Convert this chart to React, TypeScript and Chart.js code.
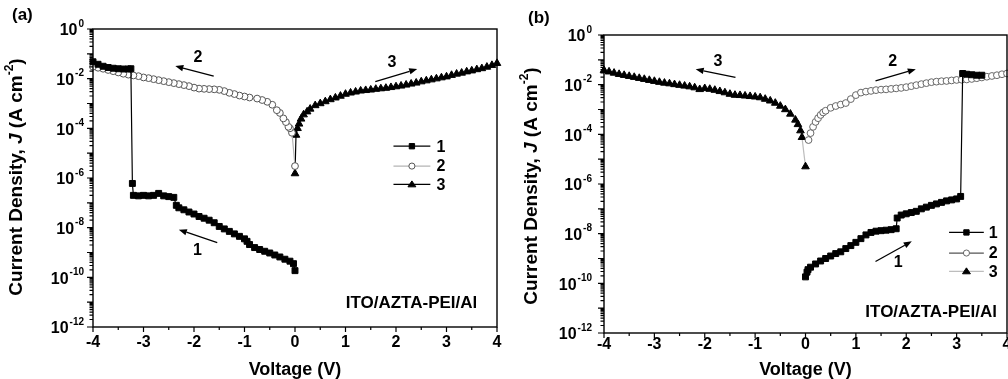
import React, { useEffect, useRef } from 'react';
import { Chart, registerables } from 'chart.js';

Chart.register(...registerables);

// ---------------- Data: panel (a) ----------------
// Sweep 1: 0 V -> -4 V (OFF state, switches ON near -3.2 V)
const A1_V = [0, -0.03, -0.1, -0.2, -0.3, -0.4, -0.5, -0.6, -0.7, -0.8, -0.9, -0.95, -1.0, -1.1, -1.2, -1.3, -1.4, -1.5, -1.6, -1.7, -1.8, -1.9, -2.0, -2.1, -2.2, -2.3, -2.35, -2.4, -2.5, -2.6, -2.7, -2.8, -2.9, -3.0, -3.1, -3.2, -3.22, -3.25, -3.3, -3.4, -3.5, -3.6, -3.7, -3.8, -3.9, -4.0];
const A1_J = [1.86e-10, 3.55e-10, 4.47e-10, 5.37e-10, 6.61e-10, 7.94e-10, 9.55e-10, 1.12e-9, 1.32e-9, 1.58e-9, 2.09e-9, 2.82e-9, 3.55e-9, 4.47e-9, 5.62e-9, 7.08e-9, 8.91e-9, 1.12e-8, 1.58e-8, 2.0e-8, 2.4e-8, 2.82e-8, 3.55e-8, 4.27e-8, 5.25e-8, 6.31e-8, 7.94e-8, 1.66e-7, 1.78e-7, 1.91e-7, 2.4e-7, 2.0e-7, 1.91e-7, 2.0e-7, 1.91e-7, 2.0e-7, 6.03e-7, 2.51e-2, 2.45e-2, 2.45e-2, 2.51e-2, 2.63e-2, 2.82e-2, 3.16e-2, 3.8e-2, 4.79e-2];
// Sweep 2: 0 V -> -4 V (ON state)
const A2_V = [0, -0.06, -0.1, -0.13, -0.18, -0.23, -0.3, -0.36, -0.45, -0.55, -0.65, -0.75, -0.9, -1.0, -1.1, -1.2, -1.3, -1.4, -1.5, -1.6, -1.7, -1.8, -1.9, -2.0, -2.1, -2.2, -2.3, -2.4, -2.5, -2.6, -2.7, -2.8, -2.9, -3.0, -3.1, -3.2, -3.3, -3.4, -3.5, -3.6, -3.7, -3.8, -3.9, -4.0];
const A2_J = [3.02e-6, 6.61e-5, 1.0e-4, 1.15e-4, 1.78e-4, 2.51e-4, 4.17e-4, 5.37e-4, 8.91e-4, 1.17e-3, 1.38e-3, 1.58e-3, 1.74e-3, 1.91e-3, 2.09e-3, 2.4e-3, 2.69e-3, 3.16e-3, 3.55e-3, 3.72e-3, 3.8e-3, 3.89e-3, 3.98e-3, 4.37e-3, 5.01e-3, 5.5e-3, 6.03e-3, 6.61e-3, 7.24e-3, 7.94e-3, 8.71e-3, 9.55e-3, 1.05e-2, 1.12e-2, 1.26e-2, 1.35e-2, 1.45e-2, 1.58e-2, 1.78e-2, 2.0e-2, 2.24e-2, 2.51e-2, 2.75e-2, 3.02e-2];
// Sweep 3: 0 V -> +4 V
const A3_V = [0, 0.02, 0.05, 0.08, 0.12, 0.17, 0.24, 0.3, 0.4, 0.5, 0.6, 0.7, 0.8, 0.9, 1.0, 1.1, 1.2, 1.3, 1.4, 1.5, 1.6, 1.7, 1.8, 1.9, 2.0, 2.1, 2.2, 2.3, 2.4, 2.5, 2.6, 2.7, 2.8, 2.9, 3.0, 3.1, 3.2, 3.3, 3.4, 3.5, 3.6, 3.7, 3.8, 3.9, 4.0];
const A3_J = [1.51e-6, 5.37e-5, 1.0e-4, 1.51e-4, 2.4e-4, 3.55e-4, 4.68e-4, 6.03e-4, 8.32e-4, 1.0e-3, 1.2e-3, 1.45e-3, 1.7e-3, 2.0e-3, 2.4e-3, 2.69e-3, 2.95e-3, 3.24e-3, 3.39e-3, 3.55e-3, 3.8e-3, 3.98e-3, 4.17e-3, 4.47e-3, 4.79e-3, 5.13e-3, 5.62e-3, 6.17e-3, 6.76e-3, 7.59e-3, 8.32e-3, 9.12e-3, 1.0e-2, 1.1e-2, 1.2e-2, 1.38e-2, 1.55e-2, 1.7e-2, 1.91e-2, 2.09e-2, 2.34e-2, 2.57e-2, 2.95e-2, 3.47e-2, 4.17e-2];

// ---------------- Data: panel (b) ----------------
const B1_V = [0, 0.03, 0.05, 0.1, 0.2, 0.3, 0.4, 0.5, 0.6, 0.7, 0.8, 0.9, 1.0, 1.1, 1.2, 1.3, 1.4, 1.5, 1.6, 1.7, 1.8, 1.82, 1.9, 2.0, 2.1, 2.2, 2.3, 2.4, 2.5, 2.6, 2.7, 2.8, 2.9, 3.0, 3.08, 3.12, 3.2, 3.3, 3.4, 3.5];
const B1_J = [1.82e-10, 2.82e-10, 3.55e-10, 4.47e-10, 6.03e-10, 7.94e-10, 1.0e-9, 1.26e-9, 1.58e-9, 1.86e-9, 2.51e-9, 3.31e-9, 4.47e-9, 6.31e-9, 8.91e-9, 1.12e-8, 1.26e-8, 1.32e-8, 1.38e-8, 1.45e-8, 1.58e-8, 4.27e-8, 5.62e-8, 6.31e-8, 7.08e-8, 7.94e-8, 1.0e-7, 1.17e-7, 1.38e-7, 1.58e-7, 1.82e-7, 2.09e-7, 2.29e-7, 2.51e-7, 3.16e-7, 2.82e-2, 2.63e-2, 2.51e-2, 2.4e-2, 2.4e-2];
const B2_V = [0.06, 0.1, 0.15, 0.2, 0.25, 0.3, 0.35, 0.4, 0.5, 0.6, 0.7, 0.8, 0.9, 1.0, 1.1, 1.2, 1.3, 1.4, 1.5, 1.6, 1.7, 1.8, 1.9, 2.0, 2.1, 2.2, 2.3, 2.4, 2.5, 2.6, 2.7, 2.8, 2.9, 3.0, 3.1, 3.2, 3.3, 3.4, 3.5, 3.6, 3.7, 3.8, 3.9, 4.0];
const B2_J = [5.89e-5, 1.12e-4, 2.0e-4, 3.16e-4, 4.47e-4, 6.03e-4, 7.59e-4, 8.91e-4, 1.17e-3, 1.38e-3, 1.58e-3, 1.82e-3, 2.63e-3, 3.8e-3, 4.79e-3, 5.25e-3, 5.62e-3, 6.03e-3, 6.31e-3, 6.46e-3, 6.76e-3, 7.08e-3, 7.41e-3, 7.94e-3, 8.71e-3, 9.55e-3, 1.05e-2, 1.15e-2, 1.26e-2, 1.32e-2, 1.38e-2, 1.41e-2, 1.48e-2, 1.55e-2, 1.58e-2, 1.62e-2, 1.7e-2, 1.82e-2, 1.95e-2, 2.09e-2, 2.24e-2, 2.4e-2, 2.63e-2, 2.82e-2];
const B3_V = [0, -0.07, -0.1, -0.15, -0.2, -0.3, -0.4, -0.5, -0.6, -0.7, -0.8, -0.9, -1.0, -1.1, -1.2, -1.3, -1.4, -1.5, -1.6, -1.7, -1.8, -1.9, -2.0, -2.1, -2.2, -2.3, -2.4, -2.5, -2.6, -2.7, -2.8, -2.9, -3.0, -3.1, -3.2, -3.3, -3.4, -3.5, -3.6, -3.7, -3.8, -3.9, -4.0];
const B3_J = [5.01e-6, 7.59e-5, 1.41e-4, 2.51e-4, 3.8e-4, 6.61e-4, 1.0e-3, 1.38e-3, 1.82e-3, 2.24e-3, 2.63e-3, 3.02e-3, 3.24e-3, 3.39e-3, 3.55e-3, 3.72e-3, 3.8e-3, 4.17e-3, 4.79e-3, 5.37e-3, 6.03e-3, 6.61e-3, 7.08e-3, 6.46e-3, 7.59e-3, 8.32e-3, 8.91e-3, 9.55e-3, 1.02e-2, 1.1e-2, 1.17e-2, 1.26e-2, 1.38e-2, 1.51e-2, 1.66e-2, 1.82e-2, 2.0e-2, 2.19e-2, 2.4e-2, 2.63e-2, 2.95e-2, 3.31e-2, 3.8e-2];

// ---------------- Axis / text ----------------
const X_MIN = -4;
const X_MAX = 4;
const Y_MIN = 1e-12;
const Y_MAX = 1;
const X_TICK_VALUES = [-4, -3, -2, -1, 0, 1, 2, 3, 4];
const Y_TICK_EXPONENTS = [0, -2, -4, -6, -8, -10, -12];
const SERIES_LABELS = ['1', '2', '3'];
const DEVICE_LABEL = 'ITO/AZTA-PEI/Al';
const X_TITLE = 'Voltage (V)';
const PANEL_LABELS = ['(a)', '(b)'];

const FONT = '"Liberation Sans", Arial, Helvetica, sans-serif';
const H = 379;

type Arrow = { from: [number, number]; to: [number, number]; label: string; labelAt: [number, number] };

interface PanelSpec {
  left: number;
  width: number;
  padding: { left: number; top: number; right: number; bottom: number };
  panelLabel: string;
  panelLabelPos: [number, number];
  yTitleCenter: [number, number];
  xTitleY: number;
  xTickLabelOffset: number;
  yTickLabelGap: number;
  series: { v: number[]; j: number[]; line: string; style: string; radius: number; fill: string; stroke: string }[];
  arrows: Arrow[]; // positions in (voltage, log10 J)
  device: [number, number]; // right edge voltage, log10 J
  legend: { rowsLog: number[]; lineFrom: number; lineTo: number; labelAt: number };
}

const PANELS: PanelSpec[] = [
  {
    left: 0,
    width: 520,
    padding: { left: 93, top: 29, right: 23, bottom: 52 },
    panelLabel: PANEL_LABELS[0],
    panelLabelPos: [12, 15],
    yTitleCenter: [17, 177],
    xTitleY: 370,
    xTickLabelOffset: 16,
    yTickLabelGap: 9,
    series: [
      { v: A1_V, j: A1_J, line: '#000', style: 'rect', radius: 4.2, fill: '#000', stroke: '#000' },
      { v: A2_V, j: A2_J, line: '#b4b4b4', style: 'circle', radius: 3.4, fill: '#fff', stroke: '#555' },
      { v: A3_V, j: A3_J, line: '#000', style: 'triangle', radius: 4.4, fill: '#000', stroke: '#000' },
    ],
    arrows: [
      { from: [-1.61, -1.9], to: [-2.37, -1.49], label: '2', labelAt: [-1.92, -1.17] },
      { from: [1.59, -2.12], to: [2.42, -1.61], label: '3', labelAt: [1.92, -1.37] },
      { from: [-1.54, -8.6], to: [-2.3, -8.08], label: '1', labelAt: [-1.93, -8.94] },
    ],
    device: [3.61, -11.04],
    legend: { rowsLog: [-4.72, -5.52, -6.26], lineFrom: 1.95, lineTo: 2.68, labelAt: 2.8 },
  },
  {
    left: 500,
    width: 530,
    padding: { left: 104, top: 35, right: 23, bottom: 46 },
    panelLabel: PANEL_LABELS[1],
    panelLabelPos: [28, 18],
    yTitleCenter: [32, 186],
    xTitleY: 370,
    xTickLabelOffset: 12,
    yTickLabelGap: 12,
    series: [
      { v: B1_V, j: B1_J, line: '#000', style: 'rect', radius: 4.2, fill: '#000', stroke: '#000' },
      { v: B2_V, j: B2_J, line: '#555', style: 'circle', radius: 3.4, fill: '#fff', stroke: '#666' },
      { v: B3_V, j: B3_J, line: '#bdbdbd', style: 'triangle', radius: 4.4, fill: '#000', stroke: '#000' },
    ],
    arrows: [
      { from: [-1.39, -1.71], to: [-2.18, -1.38], label: '3', labelAt: [-1.74, -1.08] },
      { from: [1.39, -1.85], to: [2.19, -1.38], label: '2', labelAt: [1.73, -1.08] },
      { from: [1.39, -9.12], to: [2.11, -8.31], label: '1', labelAt: [1.84, -9.16] },
    ],
    device: [3.8, -11.16],
    legend: { rowsLog: [-7.95, -8.78, -9.52], lineFrom: 2.85, lineTo: 3.54, labelAt: 3.64 },
  },
];

function drawMarker(ctx: CanvasRenderingContext2D, style: string, x: number, y: number, r: number, fill: string, stroke: string) {
  ctx.save();
  ctx.fillStyle = fill;
  ctx.strokeStyle = stroke;
  ctx.lineWidth = 1;
  ctx.beginPath();
  if (style === 'rect') {
    const s = r * Math.SQRT1_2;
    ctx.rect(x - s, y - s, 2 * s, 2 * s);
  } else if (style === 'circle') {
    ctx.arc(x, y, r, 0, Math.PI * 2);
  } else {
    const h = r * 1.5;
    ctx.moveTo(x, y - h * 0.6);
    ctx.lineTo(x + r, y + h * 0.4);
    ctx.lineTo(x - r, y + h * 0.4);
    ctx.closePath();
  }
  ctx.fill();
  ctx.stroke();
  ctx.restore();
}

function makeDecor(spec: PanelSpec) {
  return {
    id: 'decor',
    afterDraw(chart: any) {
      const ctx: CanvasRenderingContext2D = chart.ctx;
      const ca = chart.chartArea;
      const xs = chart.scales.x;
      const ys = chart.scales.y;
      const X = (v: number) => xs.getPixelForValue(v);
      const Y = (lg: number) => ys.getPixelForValue(Math.pow(10, lg));
      ctx.save();
      ctx.strokeStyle = '#000';
      ctx.fillStyle = '#000';
      // frame
      ctx.lineWidth = 1.4;
      ctx.strokeRect(ca.left, ca.top, ca.right - ca.left, ca.bottom - ca.top);
      // y ticks
      ctx.lineWidth = 1.2;
      ctx.beginPath();
      for (let e = -12; e <= 0; e++) {
        const py = ys.getPixelForValue(Math.pow(10, e));
        ctx.moveTo(ca.left - 6, py);
        ctx.lineTo(ca.left, py);
        if (e < 0) {
          for (let m = 2; m <= 9; m++) {
            const pm = ys.getPixelForValue(m * Math.pow(10, e));
            ctx.moveTo(ca.left - 3.5, pm);
            ctx.lineTo(ca.left, pm);
          }
        }
      }
      // x ticks
      for (let i = 0; i < X_TICK_VALUES.length; i++) {
        const px = X(X_TICK_VALUES[i]);
        ctx.moveTo(px, ca.bottom);
        ctx.lineTo(px, ca.bottom + 5);
        if (i < X_TICK_VALUES.length - 1) {
          const ph = X((X_TICK_VALUES[i] + X_TICK_VALUES[i + 1]) / 2);
          ctx.moveTo(ph, ca.bottom);
          ctx.lineTo(ph, ca.bottom + 3);
        }
      }
      ctx.stroke();

      const tickFont = `bold 16px ${FONT}`;
      const supFont = `bold 10px ${FONT}`;
      // x tick labels
      ctx.font = tickFont;
      ctx.textAlign = 'center';
      ctx.textBaseline = 'middle';
      for (const v of X_TICK_VALUES) {
        ctx.fillText(String(v), X(v), ca.bottom + spec.xTickLabelOffset);
      }
      // y tick labels 10^e
      for (const e of Y_TICK_EXPONENTS) {
        const py = ys.getPixelForValue(Math.pow(10, e));
        const es = String(e);
        ctx.font = supFont;
        const ew = ctx.measureText(es).width;
        ctx.font = tickFont;
        const bw = ctx.measureText('10').width;
        const right = ca.left - spec.yTickLabelGap;
        const lx = right - ew - bw - 1;
        ctx.textAlign = 'left';
        ctx.textBaseline = 'middle';
        ctx.fillText('10', lx, py + 2);
        ctx.font = supFont;
        ctx.fillText(es, lx + bw + 1, py - 5);
      }

      // x title
      ctx.font = `bold 18px ${FONT}`;
      ctx.textAlign = 'center';
      ctx.textBaseline = 'middle';
      ctx.fillText(X_TITLE, (ca.left + ca.right) / 2, spec.xTitleY);

      // panel label
      ctx.font = `bold 17px ${FONT}`;
      ctx.textAlign = 'left';
      ctx.fillText(spec.panelLabel, spec.panelLabelPos[0], spec.panelLabelPos[1]);

      // y title (rotated, mixed fonts)
      const segs: { t: string; f: string; dy: number }[] = [
        { t: 'Current Density, ', f: `bold 19px ${FONT}`, dy: 0 },
        { t: 'J', f: `italic bold 19px ${FONT}`, dy: 0 },
        { t: ' (A cm', f: `bold 19px ${FONT}`, dy: 0 },
        { t: '-2', f: `bold 12px ${FONT}`, dy: -7 },
        { t: ')', f: `bold 19px ${FONT}`, dy: 0 },
      ];
      let total = 0;
      const widths = segs.map((s) => {
        ctx.font = s.f;
        const w = ctx.measureText(s.t).width;
        total += w;
        return w;
      });
      ctx.save();
      ctx.translate(spec.yTitleCenter[0], spec.yTitleCenter[1]);
      ctx.rotate(-Math.PI / 2);
      ctx.textAlign = 'left';
      ctx.textBaseline = 'middle';
      let cx = -total / 2;
      segs.forEach((s, i) => {
        ctx.font = s.f;
        ctx.fillText(s.t, cx, s.dy);
        cx += widths[i];
      });
      ctx.restore();

      // arrows with labels
      ctx.lineWidth = 1.3;
      for (const a of spec.arrows) {
        const x1 = X(a.from[0]);
        const y1 = Y(a.from[1]);
        const x2 = X(a.to[0]);
        const y2 = Y(a.to[1]);
        const ang = Math.atan2(y2 - y1, x2 - x1);
        const hl = 8;
        const hw = 3.2;
        const bx = x2 - hl * Math.cos(ang);
        const by = y2 - hl * Math.sin(ang);
        ctx.beginPath();
        ctx.moveTo(x1, y1);
        ctx.lineTo(bx, by);
        ctx.stroke();
        ctx.beginPath();
        ctx.moveTo(x2, y2);
        ctx.lineTo(bx + hw * Math.sin(ang), by - hw * Math.cos(ang));
        ctx.lineTo(bx - hw * Math.sin(ang), by + hw * Math.cos(ang));
        ctx.closePath();
        ctx.fill();
        ctx.font = `bold 16px ${FONT}`;
        ctx.textAlign = 'center';
        ctx.textBaseline = 'middle';
        ctx.fillText(a.label, X(a.labelAt[0]), Y(a.labelAt[1]));
      }

      // device label
      ctx.font = `bold 17px ${FONT}`;
      ctx.textAlign = 'right';
      ctx.textBaseline = 'middle';
      ctx.fillText(DEVICE_LABEL, X(spec.device[0]), Y(spec.device[1]));

      // legend
      const lg = spec.legend;
      spec.series.forEach((s, i) => {
        const y = Y(lg.rowsLog[i]);
        const xa = X(lg.lineFrom);
        const xb = X(lg.lineTo);
        ctx.strokeStyle = s.line;
        ctx.lineWidth = 1.3;
        ctx.beginPath();
        ctx.moveTo(xa, y);
        ctx.lineTo(xb, y);
        ctx.stroke();
        drawMarker(ctx, s.style, (xa + xb) / 2, y, s.radius * 0.9, s.fill, s.stroke);
        ctx.fillStyle = '#000';
        ctx.font = `bold 16px ${FONT}`;
        ctx.textAlign = 'left';
        ctx.fillText(SERIES_LABELS[i], X(lg.labelAt), y + 1);
      });
      ctx.restore();
    },
  };
}

function buildConfig(spec: PanelSpec): any {
  return {
    type: 'line',
    data: {
      datasets: spec.series.map((s, i) => ({
        label: SERIES_LABELS[i],
        data: s.v.map((v, k) => ({ x: v, y: s.j[k] })),
        borderColor: s.line,
        borderWidth: 1.2,
        pointStyle: s.style,
        pointRadius: s.radius,
        pointBackgroundColor: s.fill,
        pointBorderColor: s.stroke,
        pointBorderWidth: 1,
        tension: 0,
        clip: false,
        fill: false,
      })),
    },
    options: {
      responsive: false,
      animation: false,
      devicePixelRatio: 1,
      layout: { padding: spec.padding },
      scales: {
        x: { type: 'linear', display: false, min: X_MIN, max: X_MAX },
        y: { type: 'logarithmic', display: false, min: Y_MIN, max: Y_MAX },
      },
      plugins: {
        legend: { display: false },
        tooltip: { enabled: false },
      },
      events: [],
    },
    plugins: [makeDecor(spec)],
  };
}

function Panel({ spec }: { spec: PanelSpec }) {
  const ref = useRef<HTMLCanvasElement>(null);
  useEffect(() => {
    const chart = new Chart(ref.current as HTMLCanvasElement, buildConfig(spec));
    return () => chart.destroy();
  }, [spec]);
  return (
    <canvas
      ref={ref}
      width={spec.width}
      height={H}
      style={{ position: 'absolute', left: spec.left, top: 0, width: spec.width, height: H }}
    />
  );
}

export default function App() {
  return (
    <div
      style={{
        position: 'absolute',
        left: 0,
        top: 0,
        width: 1008,
        height: H,
        overflow: 'hidden',
        background: '#fff',
      }}
    >
      {PANELS.map((p, i) => (
        <Panel key={i} spec={p} />
      ))}
    </div>
  );
}
